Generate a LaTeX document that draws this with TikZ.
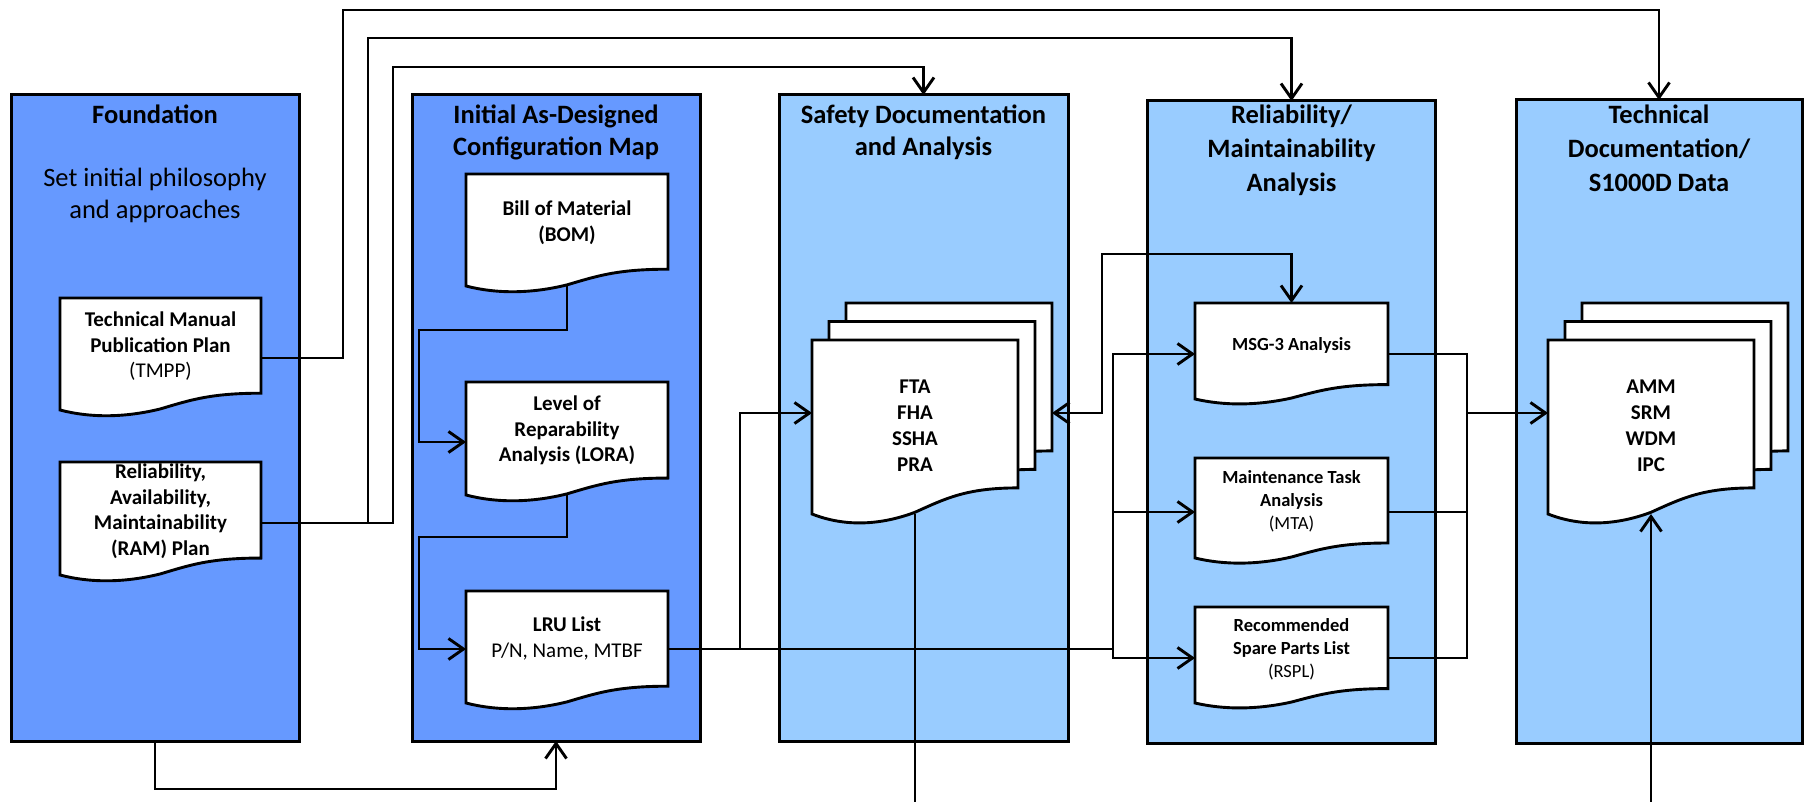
\documentclass[tikz,border=0pt]{standalone}
\usepackage{fontspec}
\setmainfont{Carlito}
\usetikzlibrary{arrows.meta,calc}
\definecolor{panelA}{RGB}{102,153,255}
\definecolor{panelB}{RGB}{153,204,255}
\newcommand\tl[1]{\begin{tabular}[t]{@{}c@{}}#1\end{tabular}}
\newcommand\docout[1]{%
  \filldraw[docline] let \p1=(#1.north west), \p2=(#1.south east), \n1={\x2-\x1}, \n2={\y1-\y2} in
  (\x1,\y1) -- (\x2,\y1) -- (\x2,{\y2+0.15*\n2})
  .. controls ({\x1+0.75*\n1},{\y2+0.15*\n2}) and ({\x1+0.65*\n1},{\y2+0.09*\n2}) .. ({\x1+0.5*\n1},{\y2+0.01*\n2})
  .. controls ({\x1+0.32*\n1},{\y2-0.07*\n2}) and ({\x1+0.15*\n1},{\y2-0.07*\n2}) .. (\x1,\y2) -- cycle;}
\newcommand\docbare[5]{%
  \node[docbox, minimum width={#4-#2}, minimum height={#5-#3}] (#1) at ({(#2+#4)/2},{(#3+#5)/2}) {};
  \docout{#1}}
\newcommand\docnode[8]{%
  \docbare{#1}{#2}{#3}{#4}{#5}
  \node[#6] (#1-t) at ({(#2+#4)/2},{(#3+#5)/2-#7}) {\tl{#8}};}
\begin{document}
\begin{tikzpicture}[x=1pt, y=-1pt, line width=2.9pt,
  pnlA/.style={draw, fill=panelA, line width=3pt, rectangle, inner sep=0pt, outer sep=0pt},
  pnlB/.style={draw, fill=panelB, line width=3pt, rectangle, inner sep=0pt, outer sep=0pt},
  docbox/.style={rectangle, inner sep=0pt, outer sep=0pt},
  docline/.style={draw=black, fill=white, line width=2.9pt},
  ttl/.style={anchor=base, inner sep=0pt, font=\fontsize{26.5}{32}\selectfont\bfseries},
  ttlb/.style={anchor=base, inner sep=0pt, font=\fontsize{26.5}{34}\selectfont\bfseries},
  subt/.style={anchor=base, inner sep=0pt, font=\fontsize{26.5}{31.5}\selectfont},
  dtA/.style={inner sep=0pt, font=\fontsize{21}{25.5}\selectfont\bfseries},
  dtB/.style={inner sep=0pt, font=\fontsize{21}{26}\selectfont\bfseries},
  dtC/.style={inner sep=0pt, font=\fontsize{18.5}{23}\selectfont\bfseries},
  line/.style={draw=black, line width=2.9pt},
  conn/.style={line, -{Straight Barb[length=15pt,width=21pt]}},
  conn2/.style={line, {Straight Barb[length=15pt,width=21pt]}-{Straight Barb[length=15pt,width=21pt]}}]
\useasboundingbox (0,0) rectangle (1804,802);

% panels
\node[pnlA, minimum width=288, minimum height=646] (found) at (155,418) {};
\node[pnlA, minimum width=288, minimum height=646] (init) at (556,418) {};
\node[pnlB, minimum width=289, minimum height=646] (safety) at (923.5,418) {};
\node[pnlB, minimum width=288, minimum height=642] (rel) at (1291.5,422) {};
\node[pnlB, minimum width=286, minimum height=643] (tech) at (1659,421.5) {};

% titles
\node[ttl] (foundT) at (155,124) {\tl{Foundation}};
\node[subt] (foundS) at (155,187) {\tl{Set initial philosophy\\and approaches}};
\node[ttl] (initT) at (556,124) {\tl{Initial As-Designed\\Configuration Map}};
\node[ttl] (safeT) at (923.5,124) {\tl{Safety Documentation\\and Analysis}};
\node[ttlb] (relT) at (1291.5,124) {\tl{Reliability/\\Maintainability\\Analysis}};
\node[ttlb] (techT) at (1659,124) {\tl{Technical\\Documentation/\\S1000D Data}};

% documents
\docnode{tmpp}{60}{298}{261}{410}{dtA}{7}{Technical Manual\\Publication Plan\\\mdseries (TMPP)}
\docnode{ram}{60}{462}{261}{575}{dtA}{6.5}{Reliability,\\Availability,\\Maintainability\\(RAM) Plan}
\docnode{bom}{466}{174}{668}{286}{dtA}{6.5}{Bill of Material\\(BOM)}
\docnode{lora}{466}{382}{668}{495}{dtA}{7.5}{Level of\\Reparability\\Analysis (LORA)}
\docnode{lru}{466}{591}{668}{703}{dtA}{7.5}{LRU List\\\mdseries P/N, Name, MTBF}
\docbare{fta3}{846}{303}{1052}{477}
\docbare{fta2}{829}{321.5}{1035}{495.5}
\docnode{fta1}{812}{340}{1018}{514}{dtB}{0}{FTA\\FHA\\SSHA\\PRA}
\docnode{msg3}{1195}{303}{1388}{399}{dtC}{5}{MSG-3 Analysis}
\docnode{mta}{1195}{458}{1388}{558}{dtC}{6}{Maintenance Task\\Analysis\\\mdseries (MTA)}
\docnode{rspl}{1195}{607}{1388}{703}{dtC}{5.5}{Recommended\\Spare Parts List\\\mdseries (RSPL)}
\docbare{amm3}{1582}{303}{1788}{477}
\docbare{amm2}{1565}{321.5}{1771}{495.5}
\docnode{amm1}{1548}{340}{1754}{514}{dtB}{0}{AMM\\SRM\\WDM\\IPC}

% junctions and free ends
\coordinate (j1) at (740,649);
\coordinate (j2) at (1113,649);
\coordinate (j4) at (1467,413);
\coordinate (bot1) at (915,804);
\coordinate (bot2) at (1651,804);

% connectors
\draw[conn] ([yshift=-4pt]tmpp.east) -| (343,10) -| (tech.north);
\draw[conn] ([yshift=-4.5pt]ram.east) -| (368,38) -| (rel.north);
\draw[conn] ([yshift=-4.5pt]ram.east) -| (393,67) -| (safety.north);
\draw[conn] (found.south) |- (556,789) -- (init.south);
\draw[conn] (bom.south) |- (419,330) |- ([yshift=-3.5pt]lora.west);
\draw[conn] (lora.south) |- (419,537) |- ([yshift=-2pt]lru.west);
\draw[line] ([yshift=-2pt]lru.east) -- (j2);
\draw[conn] (j1) |- ([yshift=14pt]fta1.west);
\draw[conn] (j2) |- ([yshift=-3pt]msg3.west);
\draw[conn] (j2) |- ([yshift=-4pt]mta.west);
\draw[conn] (j2) |- ([yshift=-3pt]rspl.west);
\draw[conn2] ([yshift=-23pt]fta3.east) -| (1102,254) -| (msg3.north);
\draw[line] (fta1.south) -- (bot1);
\draw[line] ([yshift=-3pt]msg3.east) -| (j4);
\draw[line] ([yshift=-4pt]mta.east) -| (j4);
\draw[line] ([yshift=-3pt]rspl.east) -| (j4);
\draw[conn] (j4) -- (j4 -| amm1.west);
\draw[conn] (bot2) -- (amm1.south);
\end{tikzpicture}
\end{document}
